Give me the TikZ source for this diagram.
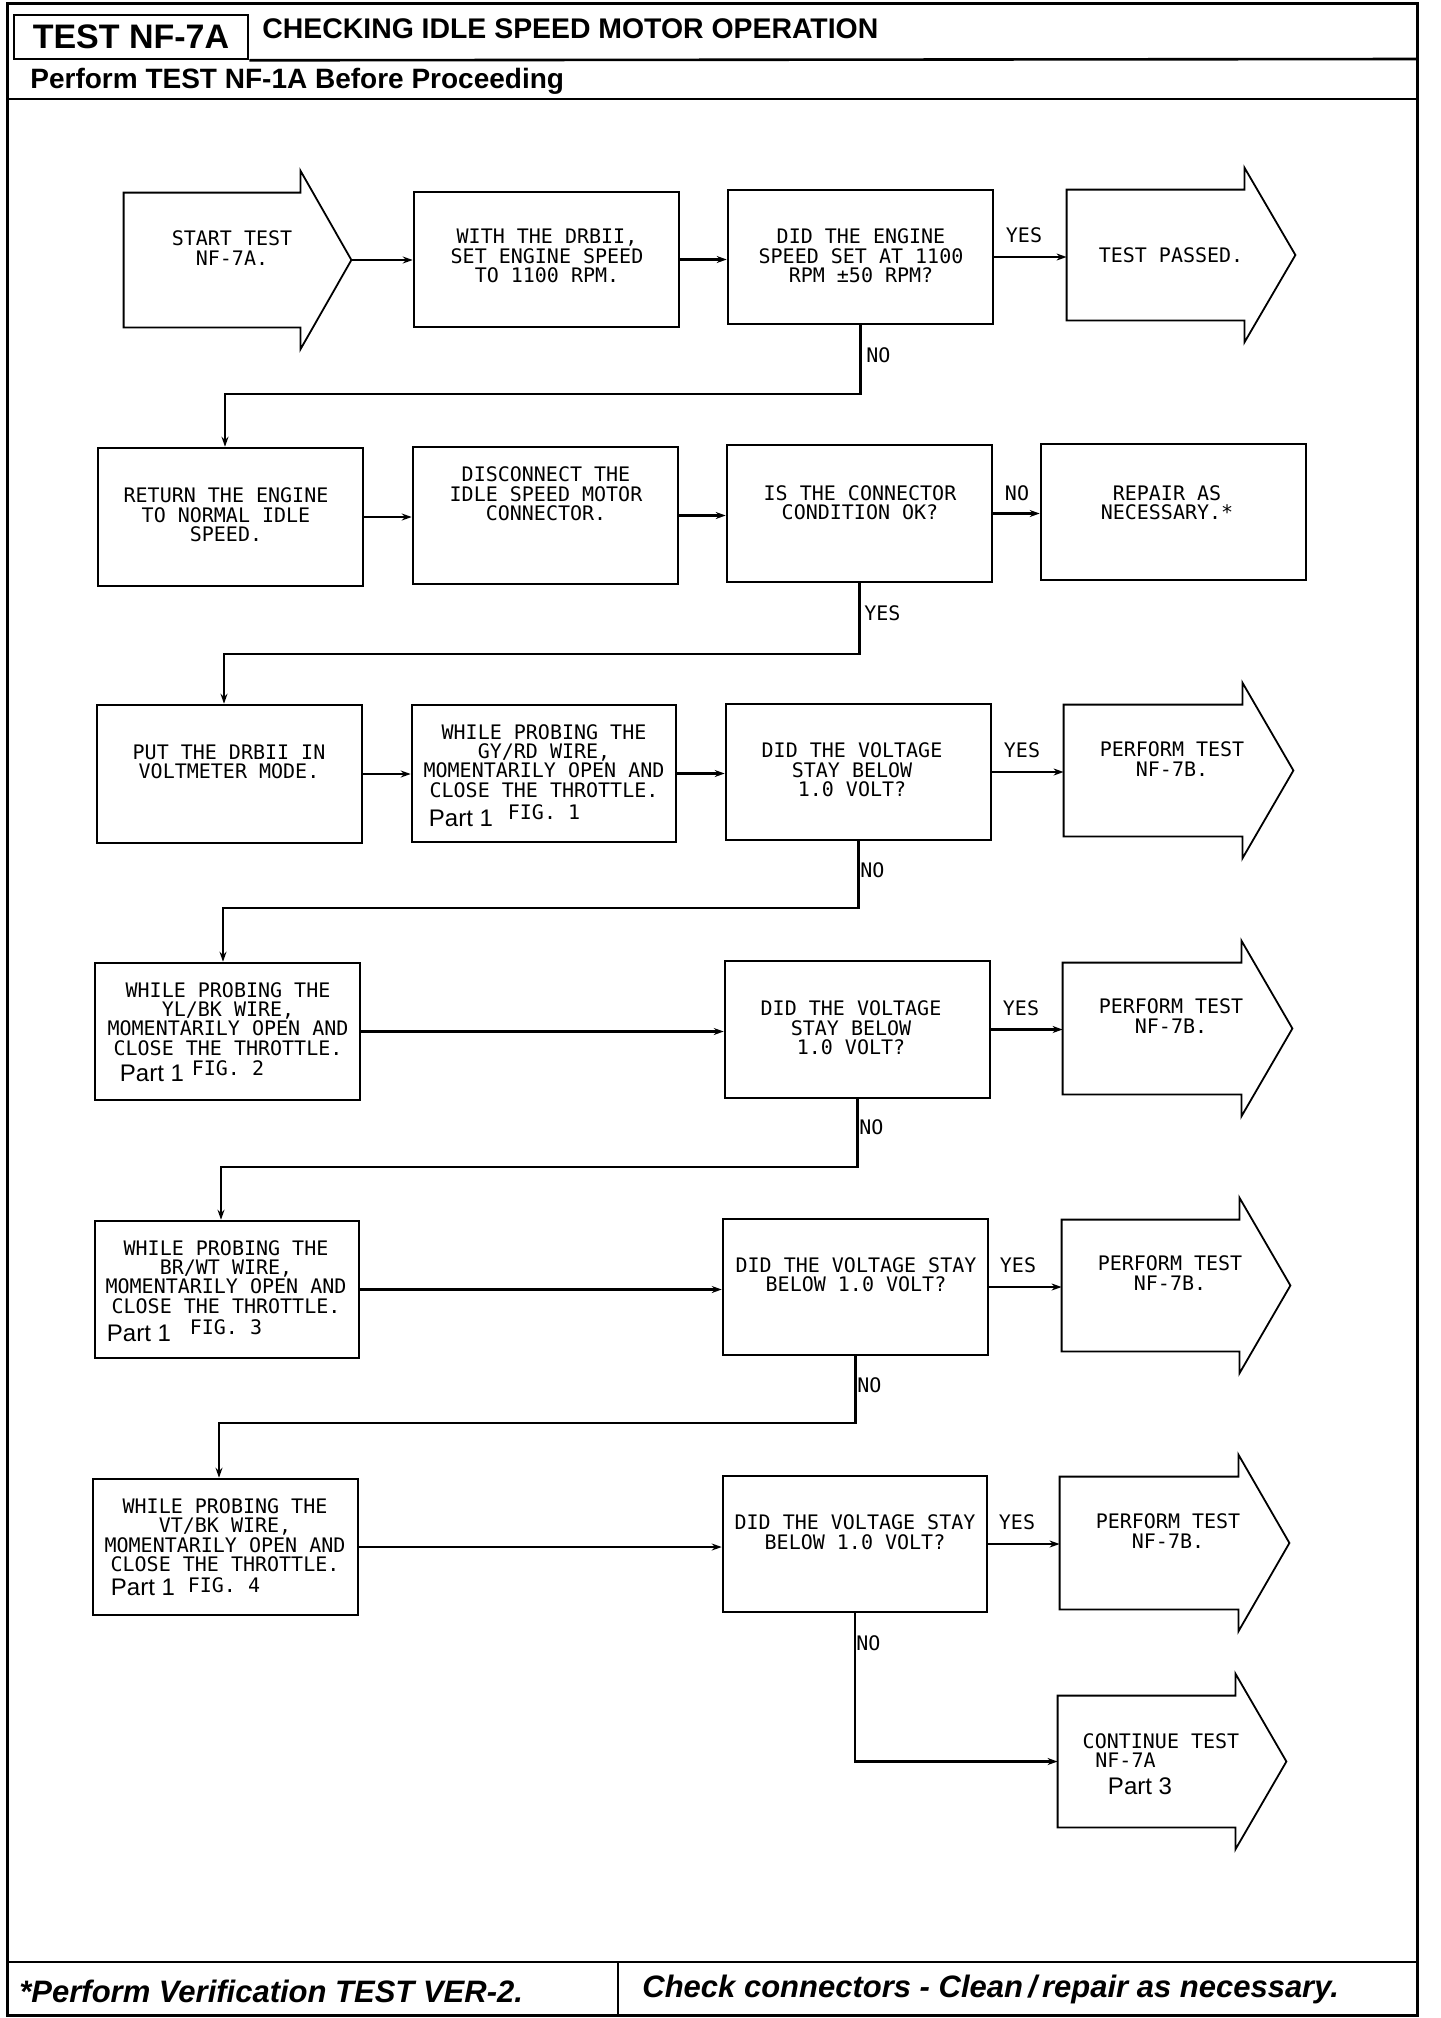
\documentclass[tikz,border=0pt]{standalone}
\usepackage{fontspec}
\setmainfont{Liberation Sans}
\newfontfamily\plotfont{DejaVu Sans Mono}
\usetikzlibrary{arrows.meta,fit,calc}
\newcommand{\fcarrow}[1]{\draw[arrline] (#1.north west) -- (#1.north east) -- ++(0,-22) -- ($(#1.east)+(51,0)$) -- ($(#1.south east)+(0,22)$) -- (#1.south east) -- (#1.south west) -- cycle;}
\begin{document}
\begin{tikzpicture}[x=0.5pt,y=-0.5pt,
 box/.style={draw,line width=1.3pt,inner sep=0pt},
 body/.style={inner sep=0pt},
 arrline/.style={line width=0.9pt,line join=miter},
 conn/.style={line width=1.1pt,-{Stealth[length=5pt,width=3.5pt]}},
 txt/.style={font=\plotfont\fontsize{10}{9.7}\selectfont,align=center,inner sep=0pt},
 lbl/.style={font=\plotfont\fontsize{10}{9.7}\selectfont,inner sep=0pt},
 part/.style={font=\fontsize{12}{12}\selectfont,inner sep=0pt},
 foot/.style={anchor=west,font=\bfseries\itshape\fontsize{15.5}{15.5}\selectfont,inner sep=0pt},
]
\fill[white] (0,0) rectangle (1440,2018);
\useasboundingbox (0,0) rectangle (1440,2018);

% frame, header, footer
\draw[line width=1.5pt] (7,3) rectangle (1417,2015);
\node[box,fit={(14,15)(248,59)}] (tbox) {};
\node[font=\bfseries\fontsize{17}{17}\selectfont,inner sep=0pt] (ttl) at (tbox.center) {TEST NF-7A};
\node[anchor=west,font=\bfseries\fontsize{14.2}{14.2}\selectfont,inner sep=0pt] (title) at (262,29) {CHECKING IDLE SPEED MOTOR OPERATION};
\draw[line width=1.3pt] (tbox.south east) -- (1417,59);
\draw[line width=1.3pt] (7,99) -- (1417,99);
\node[anchor=west,font=\bfseries\fontsize{14}{14}\selectfont,inner sep=0pt] (pre) at (30,81) {Perform TEST NF-1A Before Proceeding};
\draw[line width=1.3pt] (7,1962) -- (1417,1962);
\draw[line width=1.3pt] (618,1962) -- (618,2015);
\node[foot] (f1) at (19,1991) {*Perform Verification TEST VER-2.};
\node[foot] (f2) at (642,1989) {Check connectors - Clean\,/\,repair as necessary.};

% ---------- Row 1
\node[body,fit={(124,193)(300,327)}] (a1) {};
\fcarrow{a1}
\coordinate (a1tip) at ($(a1.east)+(51,0)$);
\node[txt] (ta1) at (232,248) {START TEST\\NF-7A.};
\node[box,fit={(414,192)(679,327)}] (m1) {};
\node[txt] (tm1) at (547,256) {WITH THE DRBII,\\SET ENGINE SPEED\\TO 1100 RPM.};
\node[box,fit={(728,190)(993,324)}] (d1) {};
\node[txt] (td1) at (861,256) {DID THE ENGINE\\SPEED SET AT 1100\\RPM ±50 RPM?};
\node[body,fit={(1067,190)(1244,320)}] (a2) {};
\fcarrow{a2}
\node[txt] (ta2) at (1171,255) {TEST PASSED.};
\draw[conn] (a1tip) -- (a1tip -| m1.west);
\draw[conn] (m1.east) -- (m1.east -| d1.west);
\draw[conn] (d1.east) -- (d1.east -| a2.west);
\node[lbl] (y1) at (1024,235) {YES};

% ---------- Row 2
\node[box,fit={(98,448)(363,586)}] (l2) {};
\node[txt] (tl2) at (226,515) {RETURN THE ENGINE\\TO NORMAL IDLE\\SPEED.};
\node[box,fit={(413,447)(678,584)}] (m2) {};
\node[txt] (tm2) at (546,494) {DISCONNECT THE\\IDLE SPEED MOTOR\\CONNECTOR.};
\node[box,fit={(727,445)(992,582)}] (d2) {};
\node[txt] (td2) at (860,503) {IS THE CONNECTOR\\CONDITION OK?};
\node[box,fit={(1041,444)(1306,580)}] (r2) {};
\node[txt] (tr2) at (1167,503) {REPAIR AS\\NECESSARY.*};
\coordinate (c1) at (225,394);
\draw[conn] (d1.south) |- (c1) -- (c1 |- l2.north);
\node[lbl,anchor=west] (n1) at (866,355) {NO};
\draw[conn] (l2.east) -- (l2.east -| m2.west);
\draw[conn] (m2.east) -- (m2.east -| d2.west);
\draw[conn] (d2.east) -- (d2.east -| r2.west);
\node[lbl] (n2) at (1017,493) {NO};

% ---------- Row 3
\node[box,fit={(97,705)(362,843)}] (l3) {};
\node[txt] (tl3) at (229,762) {PUT THE DRBII IN\\VOLTMETER MODE.};
\node[box,fit={(412,705)(676,842)}] (m3) {};
\node[txt] (tm3) at (544,761) {WHILE PROBING THE\\GY/RD WIRE,\\MOMENTARILY OPEN AND\\CLOSE THE THROTTLE.};
\node[part] (p3) at (461,818) {Part 1};
\node[lbl] (g3) at (544,812) {FIG. 1};
\node[box,fit={(726,704)(991,840)}] (d3) {};
\node[txt] (td3) at (852,770) {DID THE VOLTAGE\\STAY BELOW\\1.0 VOLT?};
\node[body,fit={(1064,705)(1242,836)}] (a3) {};
\fcarrow{a3}
\node[txt] (ta3) at (1172,759) {PERFORM TEST\\NF-7B.};
\coordinate (c2) at (224,654);
\draw[conn] (d2.south) |- (c2) -- (c2 |- l3.north);
\node[lbl,anchor=west] (ye2) at (864,613) {YES};
\draw[conn] (l3.east) -- (l3.east -| m3.west);
\draw[conn] (m3.east) -- (m3.east -| d3.west);
\draw[conn] (d3.east) -- (d3.east -| a3.west);
\node[lbl] (y3) at (1022,750) {YES};

% ---------- Row 4
\node[box,fit={(95,963)(360,1100)}] (l4) {};
\node[txt] (tl4) at (228,1019) {WHILE PROBING THE\\YL/BK WIRE,\\MOMENTARILY OPEN AND\\CLOSE THE THROTTLE.};
\node[part] (p4) at (152,1073) {Part 1};
\node[lbl] (g4) at (228,1068) {FIG. 2};
\node[box,fit={(725,961)(990,1098)}] (d4) {};
\node[txt] (td4) at (851,1028) {DID THE VOLTAGE\\STAY BELOW\\1.0 VOLT?};
\node[body,fit={(1063,963)(1241,1094)}] (a4) {};
\fcarrow{a4}
\node[txt] (ta4) at (1171,1016) {PERFORM TEST\\NF-7B.};
\coordinate (c3) at (223,908);
\draw[conn] (d3.south) |- (c3) -- (c3 |- l4.north);
\node[lbl,anchor=west] (n3) at (860,870) {NO};
\draw[conn] (l4.east) -- (l4.east -| d4.west);
\draw[conn] (d4.east) -- (d4.east -| a4.west);
\node[lbl] (y4) at (1021,1008) {YES};

% ---------- Row 5
\node[box,fit={(95,1221)(359,1358)}] (l5) {};
\node[txt] (tl5) at (226,1277) {WHILE PROBING THE\\BR/WT WIRE,\\MOMENTARILY OPEN AND\\CLOSE THE THROTTLE.};
\node[part] (p5) at (139,1333) {Part 1};
\node[lbl] (g5) at (226,1327) {FIG. 3};
\node[box,fit={(723,1219)(988,1355)}] (d5) {};
\node[txt] (td5) at (856,1275) {DID THE VOLTAGE STAY\\BELOW 1.0 VOLT?};
\node[body,fit={(1062,1220)(1239,1351)}] (a5) {};
\fcarrow{a5}
\node[txt] (ta5) at (1170,1273) {PERFORM TEST\\NF-7B.};
\coordinate (c4) at (221,1167);
\draw[conn] (d4.south) |- (c4) -- (c4 |- l5.north);
\node[lbl,anchor=west] (n4) at (859,1127) {NO};
\draw[conn] (l5.east) -- (l5.east -| d5.west);
\draw[conn] (d5.east) -- (d5.east -| a5.west);
\node[lbl] (y5) at (1018,1265) {YES};

% ---------- Row 6
\node[box,fit={(93,1479)(358,1615)}] (l6) {};
\node[txt] (tl6) at (225,1535) {WHILE PROBING THE\\VT/BK WIRE,\\MOMENTARILY OPEN AND\\CLOSE THE THROTTLE.};
\node[part] (p6) at (143,1587) {Part 1};
\node[lbl] (g6) at (224,1585) {FIG. 4};
\node[box,fit={(723,1476)(987,1612)}] (d6) {};
\node[txt] (td6) at (855,1532) {DID THE VOLTAGE STAY\\BELOW 1.0 VOLT?};
\node[body,fit={(1060,1477)(1238,1609)}] (a6) {};
\fcarrow{a6}
\node[txt] (ta6) at (1168,1531) {PERFORM TEST\\NF-7B.};
\coordinate (c5) at (219,1423);
\draw[conn] (d5.south) |- (c5) -- (c5 |- l6.north);
\node[lbl,anchor=west] (n5) at (857,1385) {NO};
\draw[conn] (l6.east) -- (l6.east -| d6.west);
\draw[conn] (d6.east) -- (d6.east -| a6.west);
\node[lbl] (y6) at (1017,1522) {YES};

% ---------- Continue
\node[body,fit={(1058,1696)(1235,1827)}] (a7) {};
\fcarrow{a7}
\node[txt] (ta7) at (1161,1741) {CONTINUE TEST};
\node[lbl,anchor=west] (ta7b) at (1095,1760) {NF-7A};
\node[part] (p7) at (1140,1786) {Part 3};
\draw[conn] (d6.south) |- (a7.west);
\node[lbl,anchor=west] (n6) at (856,1643) {NO};
\end{tikzpicture}
\end{document}
